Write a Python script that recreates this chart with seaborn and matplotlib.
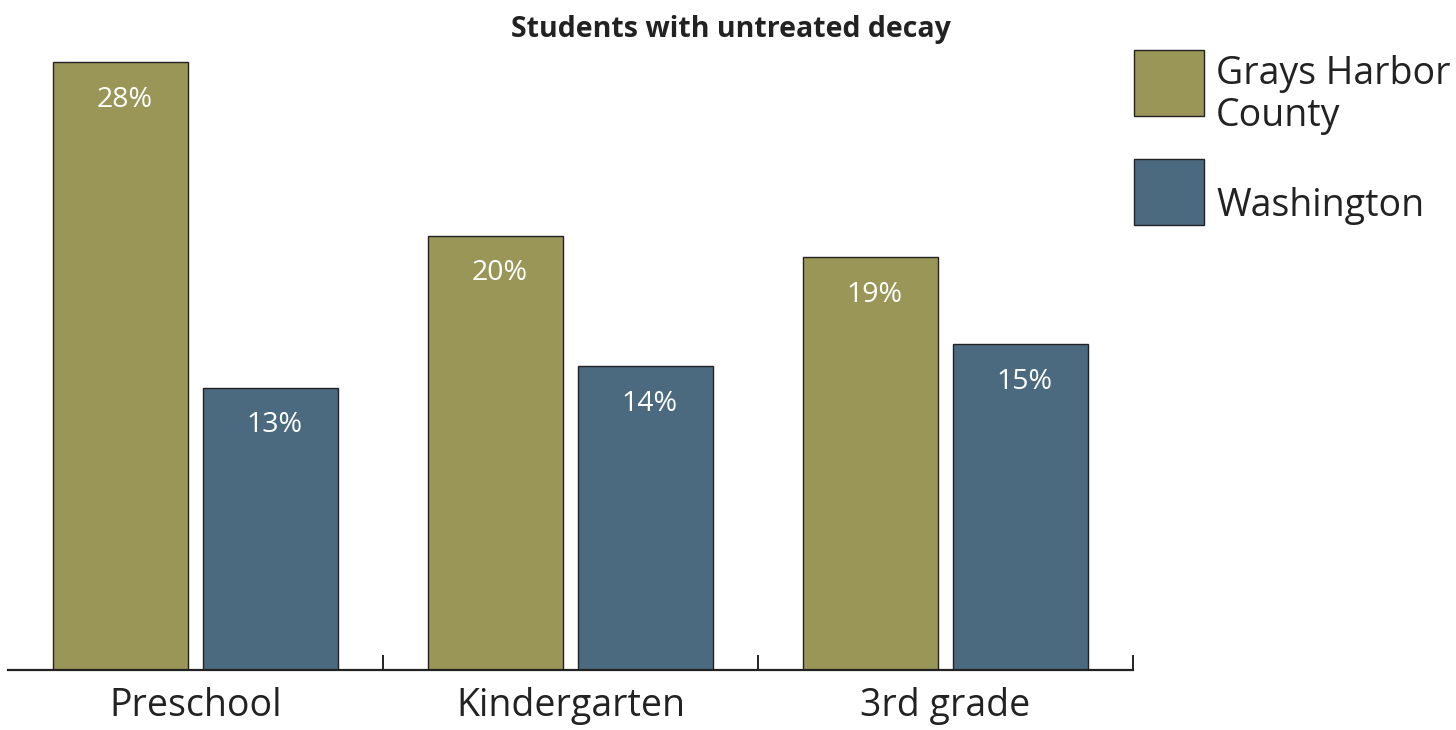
import matplotlib
matplotlib.use("Agg")
import matplotlib.pyplot as plt
from matplotlib.patches import Rectangle
import seaborn as sns
import pandas as pd

# Share of students with untreated tooth decay, by grade level
grades = ["Preschool", "Kindergarten", "3rd grade"]
county_values = [28, 20, 19]
state_values = [13, 14, 15]
series_names = ["Grays Harbor\nCounty", "Washington"]
palette = ["#9A9658", "#4B6A80"]
title = "Students with untreated decay"

df = pd.DataFrame({
    "grade": grades * 2,
    "pct": county_values + state_values,
    "area": [series_names[0]] * len(grades) + [series_names[1]] * len(grades),
})

sns.set_style("white")
plt.rcParams["font.family"] = ["Open Sans", "DejaVu Sans"]

W, H = 1456, 730
fig = plt.figure(figsize=(W / 100, H / 100), dpi=100)
ax = fig.add_axes([8 / W, 60 / H, (1133 - 8) / W, (670 - 18.6) / H])

sns.barplot(data=df, x="grade", y="pct", hue="area", order=grades,
            hue_order=series_names, palette=palette, width=0.8, gap=0.1,
            edgecolor="#222222", linewidth=1.0, saturation=1, ax=ax,
            legend=False)

ax.set_xlim(-0.5, 2.5)
ax.set_ylim(0, 30)
ax.set_xlabel("")
ax.set_ylabel("")
ax.set_yticks([])

for side in ["left", "right", "top"]:
    ax.spines[side].set_visible(False)
ax.spines["bottom"].set_color("#222222")
ax.spines["bottom"].set_linewidth(1.6)

ax.set_xticks(range(len(grades)))
ax.set_xticklabels(grades, fontsize=27, color="#222222")
ax.tick_params(axis="x", which="major", bottom=True, length=0, pad=12)
ax.set_xticks([0.5, 1.5, 2.5], minor=True)
ax.tick_params(axis="x", which="minor", bottom=True, direction="in",
               length=11, width=1.4, color="#222222")

# Value labels inside the top of each bar
for container, values in zip(ax.containers, [county_values, state_values]):
    for patch, v in zip(container.patches, values):
        cx = patch.get_x() + patch.get_width() / 2
        ax.annotate(f"{v}%", xy=(cx, v), xytext=(3, -27),
                    textcoords="offset points", ha="center", va="center",
                    fontsize=20.5, color="white")

fig.text(731 / W, 1 - 30 / H, title, ha="center", va="center",
         fontsize=20.5, fontweight="bold", color="#222222")

# Legend: colour swatch with the series name beside it
swatch_tops = [50, 159]
text_baselines = [126, 216]
for name, color, top, base in zip(series_names, palette, swatch_tops, text_baselines):
    fig.add_artist(Rectangle((1134 / W, 1 - (top + 66) / H), 70 / W, 66 / H,
                             transform=fig.transFigure, facecolor=color,
                             edgecolor="#222222", linewidth=1.0))
    fig.text(1216 / W, 1 - base / H, name, ha="left", va="baseline",
             fontsize=27, color="#222222", linespacing=1.15)

fig.savefig("out.png", dpi=100)
